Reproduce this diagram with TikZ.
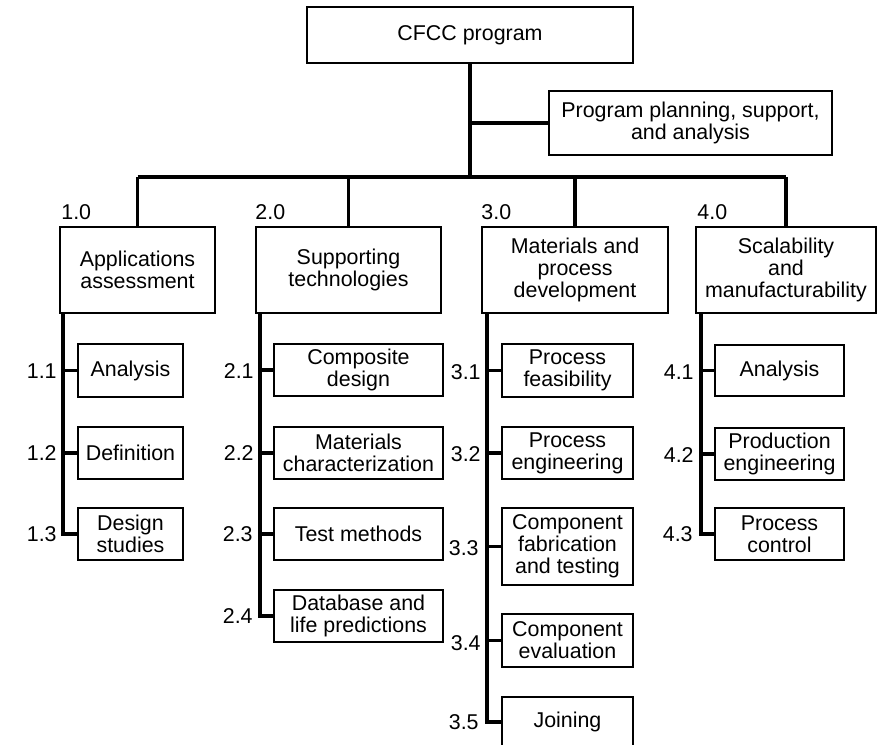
\documentclass[tikz,border=0pt]{standalone}
\usepackage{fontspec}
\setmainfont{Liberation Sans}
\usetikzlibrary{positioning}

\tikzset{
  box/.style={draw, line width=1.1pt, align=center, inner sep=0pt,
    font=\fontsize{10.7}{10.9}\selectfont},
  num/.style={inner sep=0pt, font=\fontsize{10.7}{10.9}\selectfont},
  link/.style={line width=1.6pt},
}

\begin{document}
\begin{tikzpicture}[x=0.5pt,y=-0.5pt]
  \useasboundingbox (0,0) rectangle (877,744);

  % top of the tree
  \node[box, minimum width=163pt, minimum height=28pt] (cfcc) at (470,35) {CFCC program};
  \node[box, minimum width=141.5pt, minimum height=32pt] (plan) at (690.5,123) {Program planning, support,\\and analysis};
  \coordinate (bar) at (470,177);

  % main branches
  \node[box, minimum width=77.5pt, minimum height=43pt] (app) at (137.5,270) {Applications\\assessment};
  \node[box, minimum width=92.5pt, minimum height=43pt] (sup) at (348.5,270) {Supporting\\technologies};
  \node[box, minimum width=93pt, minimum height=43pt] (mat) at (575,270) {Materials and\\process\\development};
  \node[box, minimum width=90pt, minimum height=43pt] (sca) at (786,270) {Scalability\\and\\manufacturability};
  \node[num, anchor=west] (l10) at (61,212) {1.0};
  \node[num, anchor=west] (l20) at (255,212) {2.0};
  \node[num, anchor=west] (l30) at (481,212) {3.0};
  \node[num, anchor=west] (l40) at (697,212) {4.0};

  \draw[link] (cfcc.south |- cfcc.south) -- (cfcc.south |- bar);
  \draw[link] (cfcc.south |- plan.west) -- (plan.west);
  \draw[link] (app.north |- bar) -- (sca.north |- bar);
  \draw[link] (app.north |- bar) -- (app.north);
  \draw[link] (sup.north |- bar) -- (sup.north);
  \draw[link] (mat.north |- bar) -- (mat.north);
  \draw[link] (sca.north |- bar) -- (sca.north);

  % 1.0
  \coordinate (sp1) at (63,313);
  \node[box, minimum width=52.5pt, minimum height=26.5pt] (d11) at (130.5,370.5) {Analysis};
  \node[box, minimum width=52.5pt, minimum height=26pt] (d12) at (130.5,453) {Definition};
  \node[box, minimum width=52.5pt, minimum height=26pt] (d13) at (130.5,534) {Design\\studies};
  \node[num, anchor=east] (l11) at (57,371) {1.1};
  \node[num, anchor=east] (l12) at (57,453) {1.2};
  \node[num, anchor=east] (l13) at (57,534) {1.3};
  \draw[link] (sp1) |- (d13.west);
  \draw[link] (sp1 |- d11.west) -- (d11.west);
  \draw[link] (sp1 |- d12.west) -- (d12.west);

  % 2.0
  \coordinate (sp2) at (260,313);
  \node[box, minimum width=84.5pt, minimum height=26pt] (d21) at (358.5,370) {Composite\\design};
  \node[box, minimum width=84.5pt, minimum height=26pt] (d22) at (358.5,453) {Materials\\characterization};
  \node[box, minimum width=84.5pt, minimum height=26pt] (d23) at (358.5,534) {Test methods};
  \node[box, minimum width=84.5pt, minimum height=26pt] (d24) at (358.5,616) {Database and\\life predictions};
  \node[num, anchor=east] (l21) at (254,371) {2.1};
  \node[num, anchor=east] (l22) at (254,453) {2.2};
  \node[num, anchor=east] (l23) at (253,534) {2.3};
  \node[num, anchor=east] (l24) at (253,616) {2.4};
  \draw[link] (sp2) |- (d24.west);
  \draw[link] (sp2 |- d21.west) -- (d21.west);
  \draw[link] (sp2 |- d22.west) -- (d22.west);
  \draw[link] (sp2 |- d23.west) -- (d23.west);

  % 3.0
  \coordinate (sp3) at (487,313);
  \node[box, minimum width=65.5pt, minimum height=26.5pt] (d31) at (567.5,370.5) {Process\\feasibility};
  \node[box, minimum width=65.5pt, minimum height=26pt] (d32) at (567.5,453) {Process\\engineering};
  \node[box, minimum width=65.5pt, minimum height=38.5pt] (d33) at (567.5,546.5) {Component\\fabrication\\and testing};
  \node[box, minimum width=65.5pt, minimum height=26.5pt] (d34) at (567.5,640.5) {Component\\evaluation};
  \node[box, minimum width=65.5pt, minimum height=25pt] (d35) at (567.5,722) {Joining};
  \node[num, anchor=east] (l31) at (481,372) {3.1};
  \node[num, anchor=east] (l32) at (481,454) {3.2};
  \node[num, anchor=east] (l33) at (479,548) {3.3};
  \node[num, anchor=east] (l34) at (481,643) {3.4};
  \node[num, anchor=east] (l35) at (479,722) {3.5};
  \draw[link] (sp3) |- (d35.west);
  \draw[link] (sp3 |- d31.west) -- (d31.west);
  \draw[link] (sp3 |- d32.west) -- (d32.west);
  \draw[link] (sp3 |- d33.west) -- (d33.west);
  \draw[link] (sp3 |- d34.west) -- (d34.west);

  % 4.0
  \coordinate (sp4) at (701,313);
  \node[box, minimum width=64.5pt, minimum height=25.5pt] (d41) at (779.5,370.5) {Analysis};
  \node[box, minimum width=64.5pt, minimum height=26pt] (d42) at (779.5,454) {Production\\engineering};
  \node[box, minimum width=64.5pt, minimum height=26pt] (d43) at (779.5,534) {Process\\control};
  \node[num, anchor=east] (l41) at (694,372) {4.1};
  \node[num, anchor=east] (l42) at (694,455) {4.2};
  \node[num, anchor=east] (l43) at (693,534) {4.3};
  \draw[link] (sp4) |- (d43.west);
  \draw[link] (sp4 |- d41.west) -- (d41.west);
  \draw[link] (sp4 |- d42.west) -- (d42.west);
\end{tikzpicture}
\end{document}
